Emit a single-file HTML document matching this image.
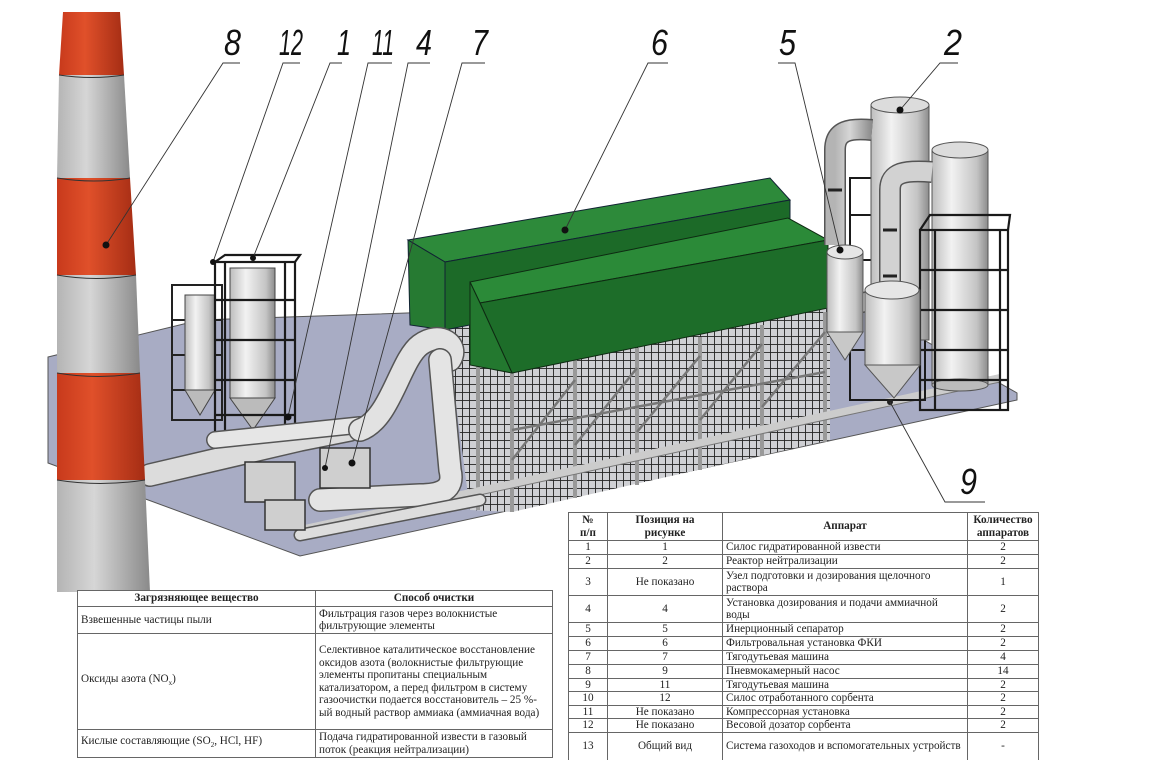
<!DOCTYPE html>
<html><head><meta charset="utf-8"><style>
html,body{margin:0;padding:0;background:#fff;}
#wrap{position:relative;width:1152px;height:760px;overflow:hidden;background:#fff;}
svg{position:absolute;left:0;top:0;}
table{position:absolute;border-collapse:collapse;font-family:"Liberation Serif","DejaVu Serif",serif;font-size:11.2px;line-height:12.5px;color:#222;background:#fff;}
td,th{border:1px solid #666;padding:0 3px;vertical-align:middle;}
th{font-weight:bold;text-align:center;}
.c{text-align:center;}
.lbl{font-family:"Liberation Sans",sans-serif;font-style:italic;font-size:36px;fill:#111;}
</style></head><body><div id="wrap">
<svg width="1152" height="760" viewBox="0 0 1152 760">
<defs>
<linearGradient id="cy" x1="0" x2="1" y1="0" y2="0">
<stop offset="0" stop-color="#bdbdbd"/><stop offset="0.35" stop-color="#f2f2f2"/><stop offset="0.8" stop-color="#c4c4c4"/><stop offset="1" stop-color="#8c8c8c"/></linearGradient>
<linearGradient id="red" x1="0" x2="1"><stop offset="0" stop-color="#c83a1c"/><stop offset="0.4" stop-color="#e0502a"/><stop offset="1" stop-color="#a52d14"/></linearGradient>
<linearGradient id="gry" x1="0" x2="1"><stop offset="0" stop-color="#b4b4b4"/><stop offset="0.4" stop-color="#d6d6d6"/><stop offset="1" stop-color="#8a8a8a"/></linearGradient>
<pattern id="grid" width="7" height="8" patternUnits="userSpaceOnUse"><rect width="7" height="8" fill="#cfd0d4"/><path d="M0 0H7M0 0V8" stroke="#222" stroke-width="1.8"/></pattern>
</defs>
<polygon points="48,357 200,320 850,298 1017,393 1017,400 300,556 48,463" fill="#a8acc4" stroke="#555" stroke-width="1"/>
<g stroke="#222" stroke-width="2" fill="none">
<rect x="172" y="285" width="50" height="135"/><line x1="172" y1="320" x2="222" y2="320"/><line x1="172" y1="355" x2="222" y2="355"/><line x1="172" y1="390" x2="222" y2="390"/>
</g>
<rect x="185" y="295" width="30" height="95" fill="url(#cy)" stroke="#444"/>
<polygon points="185,390 215,390 200,415" fill="#bbb" stroke="#444"/>
<rect x="230" y="268" width="45" height="130" fill="url(#cy)" stroke="#444"/>
<polygon points="230,398 275,398 253,430" fill="#bbb" stroke="#444"/>
<g stroke="#1a1a1a" stroke-width="2.2" fill="none">
<rect x="215" y="262" width="80" height="175"/><line x1="225" y1="262" x2="225" y2="437"/><line x1="285" y1="262" x2="285" y2="437"/>
<line x1="215" y1="300" x2="295" y2="300"/><line x1="215" y1="340" x2="295" y2="340"/><line x1="215" y1="380" x2="295" y2="380"/><line x1="215" y1="415" x2="295" y2="415"/>
<polyline points="215,262 225,255 300,255 295,262"/>
</g>
<polygon points="445,320 830,300 830,440 512,512 470,510" fill="url(#grid)"/>
<g stroke="#999" stroke-width="4">
<line x1="478" y1="330" x2="478" y2="510"/><line x1="512" y1="370" x2="512" y2="512"/><line x1="575" y1="360" x2="575" y2="498"/><line x1="637" y1="348" x2="637" y2="485"/><line x1="700" y1="337" x2="700" y2="470"/><line x1="762" y1="325" x2="762" y2="456"/><line x1="825" y1="312" x2="825" y2="442"/>
</g>
<g stroke="#777" stroke-width="2.5">
<line x1="512" y1="460" x2="575" y2="380"/><line x1="575" y1="445" x2="637" y2="368"/><line x1="637" y1="432" x2="700" y2="356"/><line x1="700" y1="420" x2="762" y2="344"/><line x1="762" y1="407" x2="825" y2="332"/>
<line x1="512" y1="430" x2="825" y2="372"/>
</g>
<line x1="300" y1="530" x2="1000" y2="378" stroke="#ccc" stroke-width="8"/>
<line x1="300" y1="534" x2="1000" y2="382" stroke="#777" stroke-width="1"/>
<polygon points="408,240 770,178 790,200 445,262" fill="#2d8a3a" stroke="#123" stroke-width="1"/>
<polygon points="445,262 790,200 790,260 445,330" fill="#1c6a28" stroke="#123" stroke-width="1"/>
<polygon points="408,240 445,262 445,330 410,325" fill="#267a32" stroke="#123" stroke-width="1"/>
<polygon points="470,282 788,218 828,240 480,303" fill="#2b8a38" stroke="#0e2a12" stroke-width="1"/>
<polygon points="480,303 828,240 828,308 512,373" fill="#1d6d29" stroke="#0e2a12" stroke-width="1"/>
<polygon points="470,282 480,303 512,373 470,365" fill="#23782f" stroke="#0e2a12" stroke-width="1"/>
<g stroke-linecap="round" fill="none">
<path d="M150,475 L300,440 L350,430" stroke="#555" stroke-width="24"/>
<path d="M150,475 L300,440 L350,430" stroke="#dcdcdc" stroke-width="21"/>
<path d="M215,440 L360,425" stroke="#555" stroke-width="18"/><path d="M215,440 L360,425" stroke="#e6e6e6" stroke-width="15"/>
<path d="M360,430 C390,420 400,360 420,345 C440,330 460,345 450,360" stroke="#555" stroke-width="24"/>
<path d="M360,430 C390,420 400,360 420,345 C440,330 460,345 450,360" stroke="#e2e2e2" stroke-width="21"/>
<path d="M440,360 L450,470 C455,490 440,495 420,495 L320,500" stroke="#555" stroke-width="24"/>
<path d="M440,360 L450,470 C455,490 440,495 420,495 L320,500" stroke="#e4e4e4" stroke-width="21"/>
<path d="M300,535 L480,500" stroke="#555" stroke-width="13"/><path d="M300,535 L480,500" stroke="#ddd" stroke-width="10"/>
</g>
<g fill="#cfcfcf" stroke="#333" stroke-width="1.5">
<rect x="245" y="462" width="50" height="40"/><rect x="320" y="448" width="50" height="40"/><rect x="265" y="500" width="40" height="30"/>
</g>
<g stroke="#1a1a1a" stroke-width="2" fill="none">
<rect x="850" y="178" width="75" height="222"/><line x1="850" y1="215" x2="925" y2="215"/><line x1="850" y1="260" x2="925" y2="260"/><line x1="850" y1="305" x2="925" y2="305"/><line x1="850" y1="350" x2="925" y2="350"/>
</g>
<rect x="871" y="105" width="58" height="235" fill="url(#cy)" stroke="#555"/>
<ellipse cx="900" cy="105" rx="29" ry="8" fill="#dcdcdc" stroke="#555"/>
<rect x="932" y="150" width="56" height="235" fill="url(#cy)" stroke="#555"/>
<ellipse cx="960" cy="150" rx="28" ry="8" fill="#dcdcdc" stroke="#555"/>
<ellipse cx="960" cy="385" rx="28" ry="6" fill="#bbb" stroke="#555"/>
<g stroke="#1a1a1a" stroke-width="2.2" fill="none">
<rect x="920" y="230" width="88" height="180"/><line x1="935" y1="230" x2="935" y2="410"/><line x1="1000" y1="230" x2="1000" y2="410"/>
<line x1="920" y1="270" x2="1008" y2="270"/><line x1="920" y1="310" x2="1008" y2="310"/><line x1="920" y1="350" x2="1008" y2="350"/><line x1="920" y1="380" x2="1008" y2="380"/>
<polyline points="920,230 930,215 1010,215 1008,230"/>
</g>
<g fill="none" stroke-linecap="butt">
<path d="M835,245 L835,150 C835,130 850,128 872,130" stroke="#555" stroke-width="22"/>
<path d="M835,245 L835,150 C835,130 850,128 872,130" stroke="url(#gry)" stroke-width="19"/>
<path d="M890,285 L890,190 C890,172 905,170 932,172" stroke="#555" stroke-width="22"/>
<path d="M890,285 L890,190 C890,172 905,170 932,172" stroke="#d2d2d2" stroke-width="19"/>
<path d="M830,315 L870,300" stroke="#555" stroke-width="20"/><path d="M830,315 L870,300" stroke="#ddd" stroke-width="17"/>
</g>
<rect x="827" y="252" width="36" height="80" fill="url(#cy)" stroke="#555"/>
<ellipse cx="845" cy="252" rx="18" ry="7" fill="#e6e6e6" stroke="#555"/>
<polygon points="827,332 863,332 845,360" fill="#c8c8c8" stroke="#555"/>
<rect x="865" y="290" width="55" height="75" fill="url(#cy)" stroke="#555"/>
<ellipse cx="892" cy="290" rx="27" ry="9" fill="#e6e6e6" stroke="#555"/>
<polygon points="865,365 920,365 894,398" fill="#c8c8c8" stroke="#555"/>
<g stroke="#222" stroke-width="3"><line x1="883" y1="230" x2="897" y2="230"/><line x1="828" y1="190" x2="842" y2="190"/><line x1="883" y1="276" x2="897" y2="276"/></g>
<circle cx="890" cy="402" r="3" fill="#222"/>
<polygon points="63,12 120,12 124,75 59,75" fill="url(#red)"/>
<polygon points="59,75 124,75 130,178 57,178" fill="url(#gry)"/>
<polygon points="57,178 130,178 136,275 57,275" fill="url(#red)"/>
<polygon points="57,275 136,275 140,373 57,373" fill="url(#gry)"/>
<polygon points="57,373 140,373 145,480 57,480" fill="url(#red)"/>
<polygon points="57,480 145,480 150,592 57,592" fill="url(#gry)"/>
<g stroke="#333" stroke-width="1" fill="none"><path d="M59,75 Q92,80 124,75"/><path d="M57,178 Q94,184 130,178"/><path d="M57,275 Q96,282 136,275"/><path d="M57,373 Q98,380 140,373"/><path d="M57,480 Q100,487 145,480"/></g>
<g stroke="#333" stroke-width="0.9" fill="none">
<polyline points="240,63 223,63 106,245"/>
<polyline points="300,63 283,63 213,262"/>
<polyline points="342,63 330,63 253,258"/>
<polyline points="392,63 368,63 288,417"/>
<polyline points="430,63 408,63 325,468"/>
<polyline points="485,63 462,63 352,463"/>
<polyline points="668,63 648,63 565,230"/>
<polyline points="778,63 795,63 840,250"/>
<polyline points="958,63 940,63 900,110"/>
<polyline points="985,502 945,502 890,402"/>
</g>
<g fill="#111"><circle cx="106" cy="245" r="3.5"/><circle cx="213" cy="262" r="3"/><circle cx="253" cy="258" r="3"/><circle cx="288" cy="417" r="3.5"/><circle cx="325" cy="468" r="3"/><circle cx="352" cy="463" r="3.5"/><circle cx="565" cy="230" r="3.5"/><circle cx="840" cy="250" r="3.5"/><circle cx="900" cy="110" r="3.5"/></g>
<text class="lbl" x="224" y="55" textLength="17" lengthAdjust="spacingAndGlyphs">8</text>
<text class="lbl" x="279" y="55" textLength="24" lengthAdjust="spacingAndGlyphs">12</text>
<text class="lbl" x="337" y="55" textLength="14" lengthAdjust="spacingAndGlyphs">1</text>
<text class="lbl" x="372" y="55" textLength="22" lengthAdjust="spacingAndGlyphs">11</text>
<text class="lbl" x="416" y="55" textLength="16" lengthAdjust="spacingAndGlyphs">4</text>
<text class="lbl" x="472" y="55" textLength="16" lengthAdjust="spacingAndGlyphs">7</text>
<text class="lbl" x="651" y="55" textLength="17" lengthAdjust="spacingAndGlyphs">6</text>
<text class="lbl" x="779" y="55" textLength="17" lengthAdjust="spacingAndGlyphs">5</text>
<text class="lbl" x="944" y="55" textLength="18" lengthAdjust="spacingAndGlyphs">2</text>
<text class="lbl" x="960" y="494" textLength="17" lengthAdjust="spacingAndGlyphs">9</text>
</svg>

<table style="left:77px;top:590px;width:476px;">
<tr style="height:16px"><th style="width:231px">Загрязняющее вещество</th><th>Способ очистки</th></tr>
<tr style="height:27px"><td>Взвешенные частицы пыли</td><td>Фильтрация газов через волокнистые фильтрующие элементы</td></tr>
<tr style="height:96px"><td>Оксиды азота (NO<sub style="font-size:7px">x</sub>)</td><td>Селективное каталитическое восстановление оксидов азота (волокнистые фильтрующие элементы пропитаны специальным катализатором, а перед фильтром в систему газоочистки подается восстановитель – 25 %-ый водный раствор аммиака (аммиачная вода)</td></tr>
<tr style="height:28px"><td>Кислые составляющие (SO<sub style="font-size:7px">2</sub>, HCl, HF)</td><td>Подача гидратированной извести в газовый поток (реакция нейтрализации)</td></tr>
</table>

<table style="left:568px;top:512px;width:471px;">
<tr style="height:28px"><th style="width:32px">№<br>п/п</th><th style="width:108px">Позиция на<br>рисунке</th><th style="width:238px">Аппарат</th><th>Количество<br>аппаратов</th></tr>
<tr style="height:14px"><td class="c">1</td><td class="c">1</td><td>Силос гидратированной извести</td><td class="c">2</td></tr>
<tr style="height:14px"><td class="c">2</td><td class="c">2</td><td>Реактор нейтрализации</td><td class="c">2</td></tr>
<tr style="height:27px"><td class="c">3</td><td class="c">Не показано</td><td>Узел подготовки и дозирования щелочного раствора</td><td class="c">1</td></tr>
<tr style="height:27px"><td class="c">4</td><td class="c">4</td><td>Установка дозирования и подачи аммиачной воды</td><td class="c">2</td></tr>
<tr style="height:14px"><td class="c">5</td><td class="c">5</td><td>Инерционный сепаратор</td><td class="c">2</td></tr>
<tr style="height:14px"><td class="c">6</td><td class="c">6</td><td>Фильтровальная установка ФКИ</td><td class="c">2</td></tr>
<tr style="height:14px"><td class="c">7</td><td class="c">7</td><td>Тягодутьевая машина</td><td class="c">4</td></tr>
<tr style="height:13px"><td class="c">8</td><td class="c">9</td><td>Пневмокамерный насос</td><td class="c">14</td></tr>
<tr style="height:13px"><td class="c">9</td><td class="c">11</td><td>Тягодутьевая машина</td><td class="c">2</td></tr>
<tr style="height:13px"><td class="c">10</td><td class="c">12</td><td>Силос отработанного сорбента</td><td class="c">2</td></tr>
<tr style="height:13px"><td class="c">11</td><td class="c">Не показано</td><td>Компрессорная установка</td><td class="c">2</td></tr>
<tr style="height:14px"><td class="c">12</td><td class="c">Не показано</td><td>Весовой дозатор сорбента</td><td class="c">2</td></tr>
<tr style="height:28px"><td class="c">13</td><td class="c">Общий вид</td><td>Система газоходов и вспомогательных устройств</td><td class="c">-</td></tr>
</table>
</div></body></html>
